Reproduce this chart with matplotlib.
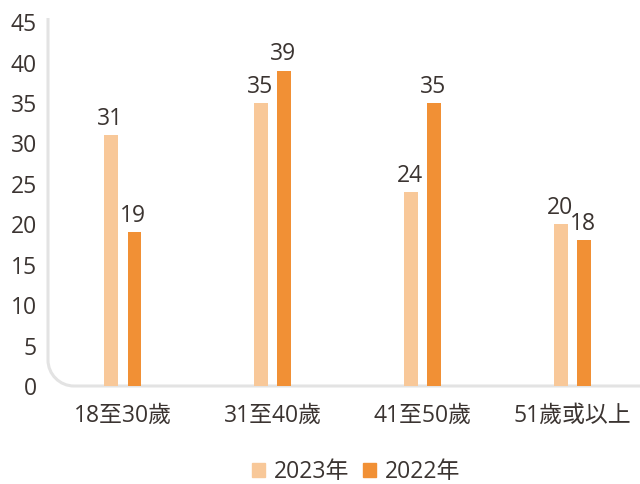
import numpy as np
import matplotlib.pyplot as plt
from matplotlib.path import Path
from matplotlib.patches import PathPatch, Patch

plt.rcParams['font.family'] = ['Open Sans', 'Noto Sans CJK TC', 'DejaVu Sans']

categories = ['18至30歲', '31至40歲', '41至50歲', '51歲或以上']
series_names = ['2023年', '2022年']
values_2023 = [31, 35, 24, 20]
values_2022 = [19, 39, 35, 18]
colors = ['#F8C899', '#F19035']
text_color = '#3b3431'
fs = 16.5

fig = plt.figure(figsize=(6.4, 4.84), dpi=100)
W, H = 640, 484
ax_left, ax_bottom, ax_top = 48, 98, 14
ax = fig.add_axes([ax_left / W, ax_bottom / H, 1 - ax_left / W, (H - ax_bottom - ax_top) / H])

x = np.arange(len(categories))
w = 0.093
off = 0.077
b1 = ax.bar(x - off, values_2023, w, color=colors[0], label=series_names[0])
b2 = ax.bar(x + off, values_2022, w, color=colors[1], label=series_names[1])
for bars, vals in ((b1, values_2023), (b2, values_2022)):
    for r, v in zip(bars, vals):
        ax.annotate(str(v), (r.get_x() + r.get_width() / 2, v), xytext=(-1, 3),
                    textcoords='offset points', ha='center', va='bottom',
                    fontsize=fs, color=text_color)

ax.set_xlim(-0.5, 3.45)
ax.set_ylim(0, 46)
ax.set_yticks(range(0, 46, 5))
ax.set_xticks(x)
ax.set_xticklabels(categories, fontsize=17)
ax.tick_params(length=0, labelsize=fs, labelcolor=text_color)
ax.tick_params(axis='y', pad=8)
ax.tick_params(axis='x', pad=13)
for s in ax.spines.values():
    s.set_visible(False)

# rounded corner axis line
aw = (W - ax_left)
ah = (H - ax_bottom - ax_top)
rx, ry = 26 / aw, 26 / ah
ytop = 1 - 4 / ah
k = 0.45
verts = [(0, ytop), (0, ry), (0, ry * k), (rx * k, 0), (rx, 0), (1, 0)]
codes = [Path.MOVETO, Path.LINETO, Path.CURVE4, Path.CURVE4, Path.CURVE4, Path.LINETO]
ax.add_patch(PathPatch(Path(verts, codes), transform=ax.transAxes, fill=False,
                       edgecolor='#e3e3e3', lw=2.2, clip_on=False, zorder=0))

handles = [Patch(color=c, label=n) for c, n in zip(colors, series_names)]
fig.legend(handles=handles, loc='center', bbox_to_anchor=(0.557, 0.024), ncol=2,
           frameon=False, fontsize=fs, handlelength=0.55, handleheight=0.55,
           handletextpad=0.4, columnspacing=0.6, labelcolor=text_color)

fig.savefig('out.png', dpi=100)
